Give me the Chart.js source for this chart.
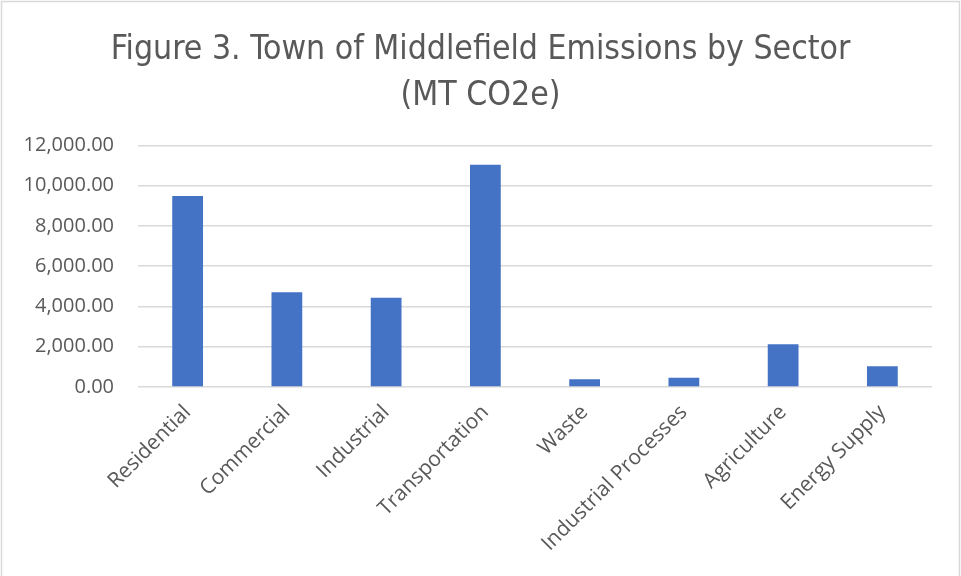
<!DOCTYPE html>
<html>
<head>
<meta charset="utf-8">
<script src="https://cdn.jsdelivr.net/npm/chart.js@4.4.0/dist/chart.umd.min.js"></script>
<style>
  body { margin: 0; background: #fff; }
  #wrap { width: 961px; height: 576px; }
</style>
</head>
<body>
<div id="wrap"><canvas id="chart" width="961" height="576"></canvas></div>
<script>
const sectors = ["Residential", "Commercial", "Industrial", "Transportation", "Waste", "Industrial Processes", "Agriculture", "Energy Supply"]
const emissions = [9490, 4710, 4430, 11040, 380, 465, 2125, 1030]
const titleLines = ["Figure 3. Town of Middlefield Emissions by Sector", "(MT CO2e)"]
const yMax = 12000
const yStep = 2000

const textGray = '#595959'
const gridGray = '#d9d9d9'

// white background + thin grey frame, like the exported chart
const frame = {
  id: 'frame',
  beforeDraw(chart) {
    let ctx = chart.ctx
    ctx.save()
    ctx.fillStyle = '#fff'
    ctx.fillRect(0, 0, chart.width, chart.height)
    ctx.strokeStyle = gridGray
    ctx.lineWidth = 1.5
    ctx.strokeRect(1.5, 1.5, chart.width - 3, chart.height + 5)
    ctx.restore()
  }
}

// center the title on the whole canvas, not the padded box
const centerTitle = {
  id: 'centerTitle',
  afterLayout(chart) {
    let t = chart.titleBlock
    if (t) {
      t.left = 0
      t.right = chart.width
    }
  }
}

let chx = new Chart(document.getElementById('chart'), {
  type: 'bar',
  data: {
    labels: sectors,
    datasets: [{
      label: 'Emissions',
      data: emissions,
      backgroundColor: '#4472c4',
      borderColor: '#4472c4',
      borderWidth: 0,
      barPercentage: 0.31,
      categoryPercentage: 1
    }]
  },
  options: {
    responsive: false,
    animation: false,
    layout: { padding: { left: 12, right: 29, top: 0, bottom: 0 } },
    plugins: {
      legend: { display: false },
      tooltip: { enabled: false },
      title: {
        display: true,
        text: titleLines,
        color: textGray,
        font: { family: "'Liberation Sans Narrow', 'DejaVu Sans Condensed', Lato, sans-serif", size: 33.5, weight: 'normal', lineHeight: 1.38 },
        padding: { top: 27, bottom: 26 }
      }
    },
    scales: {
      x: {
        grid: { display: false },
        border: { display: false },
        ticks: {
          color: textGray,
          font: { family: "'Open Sans', sans-serif", size: 21 },
          maxRotation: 45,
          minRotation: 45,
          padding: 5
        },
        afterFit(scale) { scale.height = 189 }
      },
      y: {
        min: 0,
        max: yMax,
        grid: { color: gridGray, lineWidth: 1.5, drawTicks: false },
        border: { display: false },
        ticks: {
          stepSize: yStep,
          color: textGray,
          font: { family: "'Open Sans', sans-serif", size: 20 },
          padding: 24,
          callback: v => v.toLocaleString('en-US', { minimumFractionDigits: 2, maximumFractionDigits: 2 })
        },
        afterFit(scale) { scale.width = 126 }
      }
    }
  },
  plugins: [frame, centerTitle]
})
</script>
</body>
</html>
